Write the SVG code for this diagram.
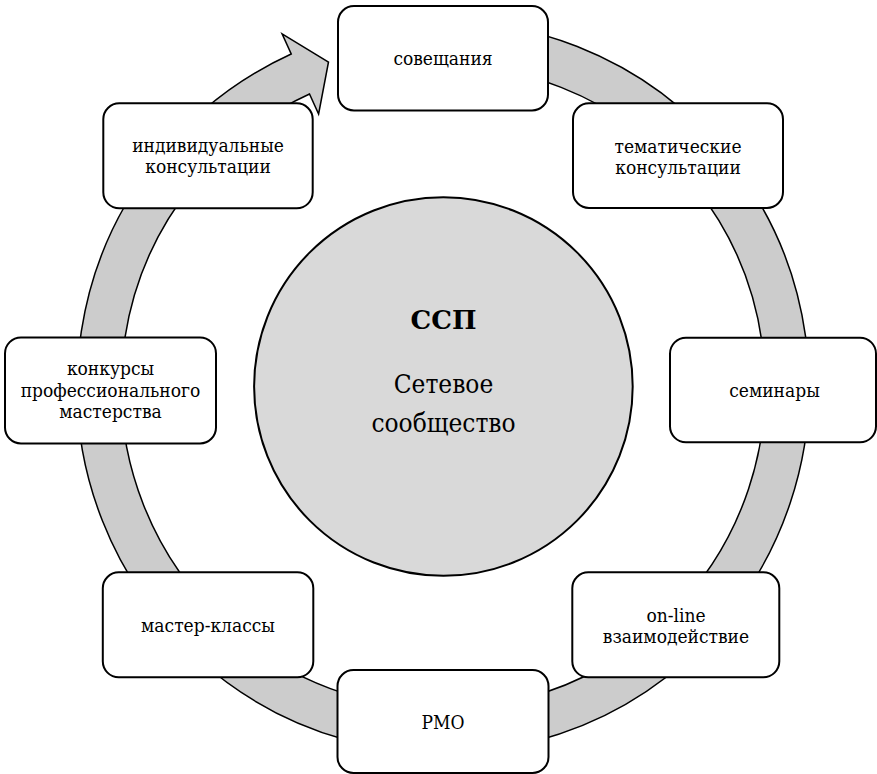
<svg xmlns="http://www.w3.org/2000/svg" width="877" height="774" viewBox="0 0 877 774">
  <style>
    .box { fill: #ffffff; stroke: #000000; stroke-width: 2; }
    .lbl { font-family: "DejaVu Serif Condensed", "DejaVu Serif", serif; font-size: 19px; fill: #000000; text-anchor: middle; }
    .ctr { font-family: "DejaVu Serif Condensed", "DejaVu Serif", serif; font-size: 26px; fill: #000000; text-anchor: middle; }
    .ttl { font-family: "DejaVu Serif", serif; font-size: 26px; font-weight: bold; fill: #000000; text-anchor: middle; }
    .ring { fill: #cccccc; stroke: #000000; stroke-width: 1.5; stroke-linejoin: miter; }
  </style>
  <rect width="877" height="774" fill="#ffffff"/>
  <g id="connectors">
    <path class="ring" d="M 411.1 22.4 A 366 366 0 1 1 291.2 54.0 L 282.1 33.9 L 328.5 62 L 318.6 114.0 L 309.5 94.0 A 322 322 0 1 0 414.9 66.2 Z"/>
  </g>
  <g id="center">
    <circle cx="443.4" cy="386.5" r="189.3" fill="#d9d9d9" stroke="#000000" stroke-width="2"/>
    <text class="ttl" x="443.5" y="329">ССП</text>
    <text class="ctr" x="443.5" y="393.3">Сетевое</text>
    <text class="ctr" x="443.5" y="431.7">сообщество</text>
  </g>
  <g id="node-soveshchaniya">
    <rect class="box" x="338" y="6" width="210" height="104.5" rx="16"/>
    <text class="lbl" x="443" y="65">совещания</text>
  </g>
  <g id="node-tematicheskie">
    <rect class="box" x="573" y="103.3" width="210" height="104.7" rx="16"/>
    <text class="lbl" x="678" y="152.5">тематические</text>
    <text class="lbl" x="678" y="174">консультации</text>
  </g>
  <g id="node-seminary">
    <rect class="box" x="670" y="337.7" width="206" height="104.6" rx="16"/>
    <text class="lbl" x="774.5" y="397">семинары</text>
  </g>
  <g id="node-online">
    <rect class="box" x="572.3" y="572.3" width="207" height="105" rx="16"/>
    <text class="lbl" x="676" y="621.5">on-line</text>
    <text class="lbl" x="676" y="642.5">взаимодействие</text>
  </g>
  <g id="node-rmo">
    <rect class="box" x="337.5" y="670" width="211" height="103" rx="16"/>
    <text class="lbl" x="443" y="729.3">РМО</text>
  </g>
  <g id="node-master">
    <rect class="box" x="102.8" y="572.3" width="210.5" height="105" rx="16"/>
    <text class="lbl" x="208" y="631.7">мастер-классы</text>
  </g>
  <g id="node-konkursy">
    <rect class="box" x="5" y="337.4" width="211" height="106" rx="16"/>
    <text class="lbl" x="110.5" y="375">конкурсы</text>
    <text class="lbl" x="110.5" y="396.5">профессионального</text>
    <text class="lbl" x="110.5" y="418">мастерства</text>
  </g>
  <g id="node-individualnye">
    <rect class="box" x="103.3" y="103.3" width="209.4" height="105" rx="16"/>
    <text class="lbl" x="208" y="151.7">индивидуальные</text>
    <text class="lbl" x="208" y="173.3">консультации</text>
  </g>
</svg>
